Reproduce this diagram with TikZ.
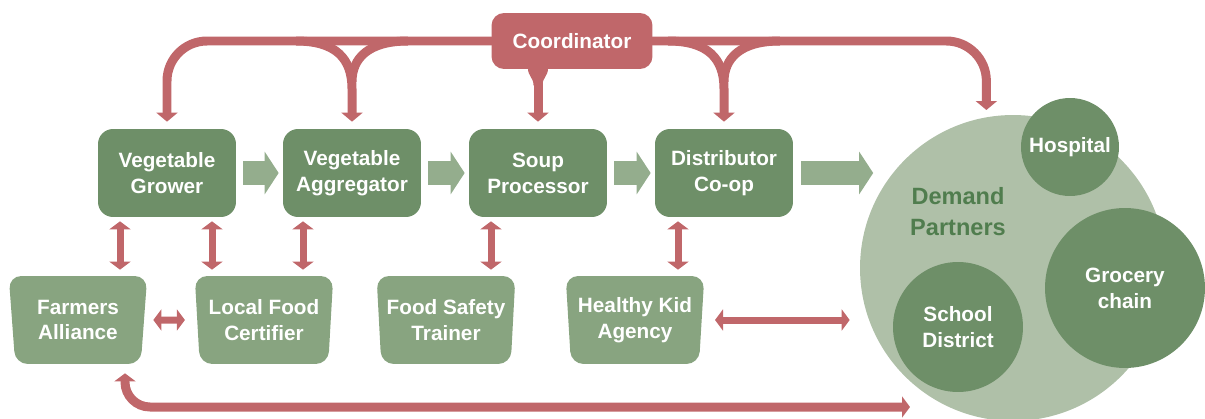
\documentclass[tikz,border=0pt]{standalone}
\usepackage{fontspec}
\setmainfont{Liberation Sans}
\usetikzlibrary{shapes.geometric,arrows.meta,calc}

\definecolor{stagegreen}{RGB}{110,143,104}
\definecolor{partnergreen}{RGB}{136,164,128}
\definecolor{flowgreen}{RGB}{148,173,141}
\definecolor{demandgreen}{RGB}{175,192,168}
\definecolor{labelgreen}{RGB}{80,125,78}
\definecolor{linkred}{RGB}{192,103,106}

\newcommand{\boxfont}{\bfseries\fontsize{11.8}{14.7}\selectfont}

\tikzset{
  stage/.style={rectangle, rounded corners=0.3cm, fill=stagegreen, text=white,
    minimum width=2.76cm, minimum height=1.76cm, align=center, font=\boxfont},
  partner/.style={trapezium, shape border rotate=180, trapezium left angle=84,
    trapezium right angle=84, trapezium stretches=true, rounded corners=0.25cm,
    fill=partnergreen, text=white, minimum width=2.78cm, minimum height=1.76cm,
    inner sep=0pt, align=center, font=\boxfont},
  hubbox/.style={rectangle, rounded corners=0.25cm, fill=linkred, text=white,
    minimum width=3.22cm, minimum height=1.12cm, font=\boxfont},
  client/.style={circle, fill=stagegreen, text=white, inner sep=0pt,
    align=center, font=\boxfont},
  flow/.style={draw=flowgreen, line width=0.48cm,
    -{Triangle[length=0.28cm, width=0.84cm]}},
  link/.style={draw=linkred, line width=0.14cm,
    {Triangle[length=0.16cm, width=0.42cm]}-{Triangle[length=0.16cm, width=0.42cm]}},
  feed/.style={draw=linkred, line width=0.18cm, rounded corners=0.8cm,
    -{Triangle[length=0.18cm, width=0.42cm]}, shorten >=0.14cm},
}

\begin{document}
\begin{tikzpicture}[x=0.02cm, y=-0.02cm]
\useasboundingbox (0,0) rectangle (1205,419);

% demand side
\node[circle, fill=demandgreen, minimum size=6.12cm, inner sep=0pt] (demand) at (1013,268) {};
\node[text=labelgreen, align=center, font=\bfseries\fontsize{13.4}{17.6}\selectfont] (demandlabel) at (958,212) {Demand\\Partners};
\node[client, minimum size=1.96cm] (hospital) at (1070,147) {Hospital};
\node[client, minimum size=3.2cm] (grocery) at (1125,288) {Grocery\\chain};
\node[client, minimum size=2.6cm] (school) at (958,327) {School\\District};

% supply chain
\node[stage] (grower) at (167,173) {Vegetable\\Grower};
\node[stage] (agg) at (352,173) {Vegetable\\Aggregator};
\node[stage] (soup) at (538,173) {Soup\\Processor};
\node[stage] (dist) at (724,173) {Distributor\\Co-op};

\node[partner] (farmers) at (78,320) {Farmers\\Alliance};
\node[partner] (certifier) at (264,320) {Local Food\\Certifier};
\node[partner] (trainer) at (446,320) {Food Safety\\Trainer};
\node[partner] (kid) at (635,320) {Healthy Kid\\Agency};

\foreach \a/\b in {grower/agg, agg/soup, soup/dist}
  \draw[flow, shorten <=0.14cm, shorten >=0.08cm] (\a.east) -- (\b.west);
\draw[flow, shorten <=0.16cm, shorten >=0.38cm] (dist.east) -- (dist.east -| demand.142);

% two-way links
\foreach \x/\a/\b in {120/grower/farmers, 212/grower/certifier, 303/agg/certifier, 491/soup/trainer, 678/dist/kid}
  \draw[link, shorten <=0.08cm, shorten >=0.12cm] (\x,0 |- \a.south) -- (\x,0 |- \b.north);
\draw[link, shorten <=0.18cm, shorten >=0.24cm] (farmers.east) -- (certifier.west);
\draw[link, shorten <=0.26cm, shorten >=0.2cm] (kid.east) -- (kid.east -| demand.west);

\coordinate (busend) at (910,407);
\draw[link, line width=0.18cm, rounded corners=0.5cm, shorten >=0.18cm] (busend) -| (125,0 |- farmers.south);

% coordinator (y axis points down here)
\coordinate (hub) at (572,41);
\draw[feed] (hub) -| (grower.north);
\draw[feed] (hub) -| (demand.100);
\draw[feed] (hub -| soup.north) -- (soup.north);
\foreach \n in {agg, dist} {
  \draw[feed, sharp corners] ($(\n.north |- hub)+(-56,0)$) .. controls +(40,0) and +(0,-30) .. ($(\n.north)+(0,-40)$) -- (\n.north);
  \draw[feed, sharp corners, -] ($(\n.north |- hub)+(56,0)$) .. controls +(-40,0) and +(0,-30) .. ($(\n.north)+(0,-40)$);
}
\node[hubbox] (coord) at (hub) {Coordinator};
\fill[linkred] ($(coord.south -| soup.north)+(-10,-1)$) .. controls +(0,8) and +(0,-8) .. ($(coord.south -| soup.north)+(-4.5,16)$)
  -- ++(9,0) .. controls +(0,-8) and +(0,8) .. ($(coord.south -| soup.north)+(10,-1)$) -- cycle;
\end{tikzpicture}
\end{document}
